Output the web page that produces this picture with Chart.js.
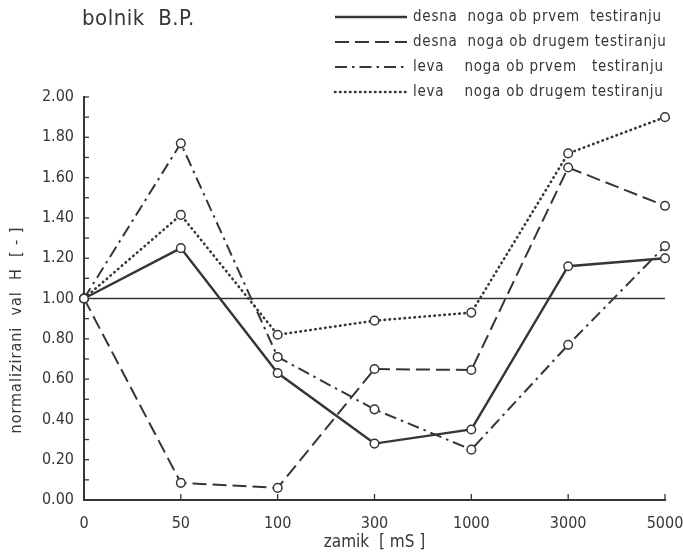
<!DOCTYPE html>
<html>
<head>
<meta charset="utf-8">
<script src="https://cdn.jsdelivr.net/npm/chart.js@4"></script>
<style>
  html, body { margin: 0; padding: 0; background: #fff; }
  #wrap { width: 683px; height: 557px; position: relative; }
</style>
</head>
<body>
<div id="wrap"><canvas id="chart" width="683" height="557"></canvas></div>
<script>
  // data
  const categories = ['0', '50', '100', '300', '1000', '3000', '5000'];
  const desnaPrvem = [1.00, 1.25, 0.63, 0.28, 0.35, 1.16, 1.20];
  const desnaDrugem = [1.00, 0.085, 0.06, 0.65, 0.645, 1.65, 1.46];
  const levaPrvem = [1.00, 1.77, 0.71, 0.45, 0.25, 0.77, 1.26];
  const levaDrugem = [1.00, 1.415, 0.82, 0.89, 0.93, 1.72, 1.90];
  const yTicks = [0, 0.2, 0.4, 0.6, 0.8, 1.0, 1.2, 1.4, 1.6, 1.8, 2.0];
  const refValue = 1.00;

  const ink = '#363636';
  const font = '"DejaVu Sans Condensed", sans-serif';

  const legendRows = [
    { text: 'desna  noga ob prvem  testiranju', dash: [], width: 2.4, cap: 'butt' },
    { text: 'desna  noga ob drugem testiranju', dash: [14, 6], width: 2, cap: 'butt' },
    { text: 'leva    noga ob prvem   testiranju', dash: [12, 5, 2.5, 5], width: 2, cap: 'butt' },
    { text: 'leva    noga ob drugem testiranju', dash: [0.5, 4.5], width: 2.6, cap: 'round' }
  ];

  function series(label, data, row) {
    return {
      label: label,
      data: data,
      borderColor: ink,
      borderWidth: row.width,
      borderDash: row.dash,
      borderCapStyle: row.cap,
      pointRadius: 4.3,
      pointBorderWidth: 1.5,
      pointBackgroundColor: '#fff',
      pointBorderColor: ink,
      tension: 0,
      fill: false
    };
  }

  // title, legend, y title, reference line and inward ticks
  const decor = {
    id: 'decor',
    beforeDatasetsDraw(chart) {
      const { ctx, chartArea: a, scales } = chart;
      const y1 = scales.y.getPixelForValue(refValue);
      ctx.save();
      ctx.strokeStyle = ink;
      ctx.lineWidth = 1.3;
      ctx.beginPath();
      ctx.moveTo(a.left, y1);
      ctx.lineTo(a.right, y1);
      ctx.stroke();

      // minor + major ticks on y, pointing inward
      for (let v = 0; v <= 2.0001; v += 0.1) {
        const py = scales.y.getPixelForValue(v);
        ctx.beginPath();
        ctx.moveTo(a.left, py);
        ctx.lineTo(a.left + 5, py);
        ctx.stroke();
      }
      // ticks on x
      categories.forEach((c, i) => {
        const px = scales.x.getPixelForValue(i);
        ctx.beginPath();
        ctx.moveTo(px, a.bottom);
        ctx.lineTo(px, a.bottom - 6);
        ctx.stroke();
      });
      ctx.restore();
    },
    afterDraw(chart) {
      const { ctx } = chart;
      ctx.save();
      ctx.fillStyle = ink;
      ctx.textBaseline = 'middle';
      ctx.letterSpacing = '0.5px';
      ctx.font = '22px ' + font;
      ctx.fillText('bolnik  B.P.', 82, 19);

      ctx.font = '15px ' + font;
      ctx.letterSpacing = '0.75px';
      legendRows.forEach((r, i) => {
        const y = 17 + i * 25;
        ctx.strokeStyle = ink;
        ctx.lineWidth = r.width;
        ctx.lineCap = r.cap;
        ctx.setLineDash(r.dash);
        ctx.beginPath();
        ctx.moveTo(335, y);
        ctx.lineTo(407, y);
        ctx.stroke();
        ctx.setLineDash([]);
        ctx.fillText(r.text, 413, y);
      });

      // y axis title
      ctx.translate(17, 330);
      ctx.rotate(-Math.PI / 2);
      ctx.textAlign = 'center';
      ctx.font = '16px ' + font;
      ctx.letterSpacing = '1px';
      ctx.fillText('normalizirani  val  H  [ - ]', 0, 0);
      ctx.restore();
    }
  };

  new Chart(document.getElementById('chart'), {
    type: 'line',
    data: {
      labels: categories,
      datasets: [
        series('desna noga ob prvem testiranju', desnaPrvem, legendRows[0]),
        series('desna noga ob drugem testiranju', desnaDrugem, legendRows[1]),
        series('leva noga ob prvem testiranju', levaPrvem, legendRows[2]),
        series('leva noga ob drugem testiranju', levaDrugem, legendRows[3])
      ]
    },
    options: {
      responsive: false,
      animation: false,
      layout: { padding: { left: 0, right: 0, top: 97, bottom: 0 } },
      plugins: {
        legend: { display: false },
        tooltip: { enabled: false }
      },
      scales: {
        x: {
          offset: false,
          grid: { display: false },
          border: { color: ink, width: 2 },
          ticks: { color: ink, font: { family: font, size: 16 }, padding: 6, maxRotation: 0 },
          title: { display: true, text: 'zamik  [ mS ]', color: ink, font: { family: font, size: 17 }, padding: { top: 2 } },
          afterFit: s => { s.height = 57; s.paddingLeft = 0; s.paddingRight = 18; }
        },
        y: {
          min: 0,
          max: 2,
          afterBuildTicks: s => { s.ticks = yTicks.map(v => ({ value: v })); },
          grid: { display: false },
          border: { color: ink, width: 2 },
          ticks: {
            color: ink,
            font: { family: font, size: 16 },
            padding: 2,
            callback: v => Number(v).toFixed(2)
          },
          afterFit: s => { s.width = 84; }
        }
      }
    },
    plugins: [decor]
  });
</script>
</body>
</html>
